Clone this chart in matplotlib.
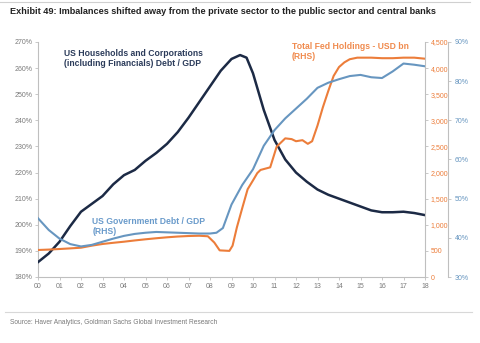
import matplotlib.pyplot as plt
from matplotlib.lines import Line2D

plt.rcParams['font.family'] = ['Liberation Sans', 'DejaVu Sans']

# US Households and Corporations (incl. Financials) Debt / GDP, % (LHS)
hh_years = [2000, 2000.5, 2001, 2001.5, 2002, 2002.5, 2003, 2003.5, 2004, 2004.5,
            2005, 2005.5, 2006, 2006.5, 2007, 2007.5, 2008, 2008.5, 2009, 2009.4,
            2009.7, 2010, 2010.5, 2011, 2011.5, 2012, 2012.5, 2013, 2013.5, 2014,
            2014.5, 2015, 2015.5, 2016, 2016.5, 2017, 2017.5, 2018]
hh_debt = [185.7, 189, 193.5, 199.5, 205, 208, 211, 215.5, 219, 221,
           224.5, 227.5, 231, 235.5, 241, 247, 253, 259, 263.5, 265,
           264, 258, 244, 232.5, 225, 220, 216.5, 213.5, 211.5, 210,
           208.5, 207, 205.5, 204.8, 204.8, 205, 204.5, 203.7]

# US Government Debt / GDP, % (RHS)
gov_years = [2000, 2000.5, 2001, 2001.5, 2002, 2002.5, 2003, 2003.5, 2004, 2004.5,
             2005, 2005.5, 2006, 2006.5, 2007, 2007.5, 2008, 2008.3, 2008.6, 2009,
             2009.5, 2010, 2010.5, 2011, 2011.5, 2012, 2012.5, 2013, 2013.5, 2014,
             2014.5, 2015, 2015.5, 2016, 2016.5, 2017, 2017.5, 2018]
gov_debt = [45, 42, 39.8, 38.4, 37.8, 38.2, 39, 39.8, 40.5, 41,
            41.3, 41.5, 41.4, 41.3, 41.2, 41.1, 41.1, 41.3, 42.5, 48.5,
            53.5, 57.5, 63.5, 67.5, 70.5, 73, 75.5, 78.3, 79.6, 80.5,
            81.3, 81.6, 81, 80.8, 82.5, 84.5, 84.2, 83.8]

# Total Fed Holdings, USD bn (RHS)
fed_years = [2000, 2000.5, 2001, 2001.5, 2002, 2002.5, 2003, 2003.5, 2004, 2004.5,
             2005, 2005.5, 2006, 2006.5, 2007, 2007.5, 2007.9, 2008.2, 2008.45, 2008.9,
             2009.05, 2009.25, 2009.5, 2009.75, 2010, 2010.2, 2010.35, 2010.8, 2011.1,
             2011.5, 2011.8, 2012, 2012.3, 2012.55, 2012.75, 2013, 2013.25, 2013.5,
             2013.75, 2014, 2014.25, 2014.5, 2014.85, 2015.5, 2016, 2016.5, 2017,
             2017.5, 2018]
fed_hold = [517, 525, 536, 548, 561, 600, 632, 655, 676, 700,
            722, 742, 760, 775, 785, 790, 780, 660, 510, 500,
            600, 950, 1320, 1680, 1850, 1990, 2050, 2100, 2495,
            2655, 2640, 2600, 2620, 2550, 2600, 2900, 3250, 3560,
            3850, 4020, 4110, 4170, 4200, 4200, 4190, 4190, 4200,
            4200, 4180]

x_ticks = list(range(2000, 2019))
x_labels = ['%02d' % (y - 2000) for y in x_ticks]

navy = '#1c2a45'
blue = '#6796c0'
orange = '#ec7d3a'
grey = '#7a7a7a'
spine = '#bfbfbf'

fig = plt.figure(figsize=(4.8, 3.43), dpi=100)
ax = fig.add_axes([38 / 480, 1 - 277 / 343, 387 / 480, 235 / 343])
ax_o = ax.twinx()
ax_b = ax.twinx()

ax.plot(hh_years, hh_debt, color=navy, lw=1.8, zorder=3)
ax_o.plot(fed_years, fed_hold, color=orange, lw=1.5)
ax_b.plot(gov_years, gov_debt, color=blue, lw=1.5)

ax.set_xlim(2000, 2018)
ax.set_ylim(180, 270)
ax.set_yticks(range(180, 271, 10))
ax.set_yticklabels(['%d%%' % v for v in range(180, 271, 10)])
ax.set_xticks(x_ticks)
ax.set_xticklabels(x_labels)

ax_o.set_ylim(0, 4500)
ax_o.set_yticks(range(0, 4501, 500))
ax_o.set_yticklabels(['{:,}'.format(v) for v in range(0, 4501, 500)])

ax_b.set_ylim(30, 90)
ax_b.set_yticks(range(30, 91, 10))
ax_b.set_yticklabels(['%d%%' % v for v in range(30, 91, 10)])
ax_b.spines['right'].set_position(('axes', (448 - 38) / 387))

for a in (ax, ax_o, ax_b):
    a.spines['top'].set_visible(False)
    for s in a.spines.values():
        s.set_color(spine)
        s.set_linewidth(0.8)
for a in (ax_o, ax_b):
    a.spines['left'].set_visible(False)
    a.spines['bottom'].set_visible(False)
ax.spines['right'].set_visible(False)

ax.tick_params(axis='both', labelsize=5, colors=grey, length=2, width=0.6, pad=2)
ax.tick_params(axis='both', color=spine)
ax_o.tick_params(axis='y', labelsize=5, labelcolor=orange, color=spine, length=2, width=0.6, pad=2)
ax_b.tick_params(axis='y', labelsize=5, labelcolor=blue, color=spine, length=2, width=0.6, pad=3)

ax.text(0.067, 0.97, 'US Households and Corporations\n(including Financials) Debt / GDP',
        transform=ax.transAxes, color='#2b3b5a', fontsize=6.2, fontweight='bold',
        va='top', ha='left', linespacing=1.15)
ax.text(0.656, 1.0, 'Total Fed Holdings - USD bn\n(RHS)',
        transform=ax.transAxes, color='#f08b4e', fontsize=6.2, fontweight='bold',
        va='top', ha='left', linespacing=1.15)
ax.text(0.14, 0.255, 'US Government Debt / GDP\n(RHS)',
        transform=ax.transAxes, color='#6a9bcb', fontsize=6.2, fontweight='bold',
        va='top', ha='left', linespacing=1.15)

fig.text(10 / 480, 1 - 12 / 343,
         'Exhibit 49: Imbalances shifted away from the private sector to the public sector and central banks',
         fontsize=6.6, fontweight='bold', color='#222222', va='center', ha='left')
fig.text(10 / 480, 1 - 322 / 343,
         'Source: Haver Analytics, Goldman Sachs Global Investment Research',
         fontsize=4.8, color=grey, va='center', ha='left')

fig.add_artist(Line2D([0, 470 / 480], [1 - 2 / 343] * 2, transform=fig.transFigure,
                      color='#d0d0d0', lw=0.8))
fig.add_artist(Line2D([5 / 480, 472 / 480], [1 - 312 / 343] * 2, transform=fig.transFigure,
                      color='#d8d8d8', lw=0.8))

fig.savefig('out.png', dpi=100)
